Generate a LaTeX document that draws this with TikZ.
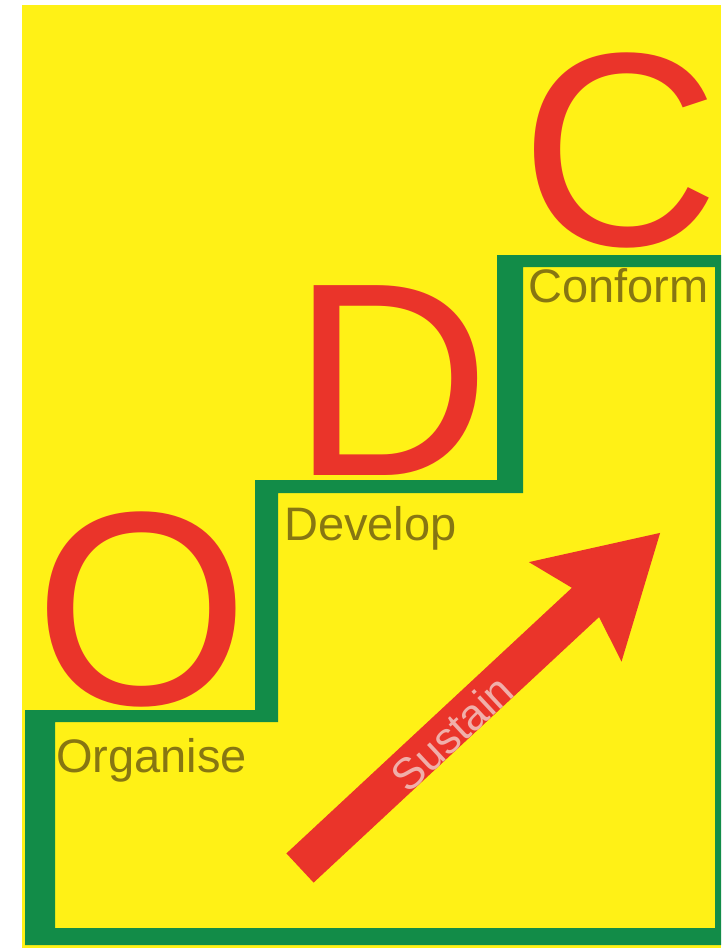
\documentclass[tikz,border=0pt]{standalone}
\usepackage{fontspec}
\setmainfont{Liberation Sans}
\definecolor{bgyellow}{RGB}{255,241,22}
\definecolor{stairgreen}{RGB}{18,140,72}
\definecolor{letterred}{RGB}{234,52,42}
\definecolor{labelolive}{RGB}{135,118,18}
\definecolor{sustainpink}{RGB}{240,175,170}
\tikzset{
  bigletter/.style={inner sep=0pt, text=letterred, font=\fontsize{276}{276}\selectfont},
  steplabel/.style={inner sep=0pt, anchor=base west, text=labelolive, font=\fontsize{47}{50}\selectfont},
  arrowlabel/.style={inner sep=0pt, text=sustainpink, font=\fontsize{44}{46}\selectfont, rotate=42.94}
}
\begin{document}
\begin{tikzpicture}[x=1pt,y=-1pt]
\useasboundingbox (0,0) rectangle (721,948);
\fill[white] (0,0) rectangle (721,948);
\fill[bgyellow] (22,5) rectangle (721,948);
% staircase outline
\fill[stairgreen, even odd rule]
  (25,710) -- (255,710) -- (255,480) -- (497,480) -- (497,255) -- (721,255) -- (721,945) -- (25,945) -- cycle
  (55,722) -- (278,722) -- (278,493) -- (523,493) -- (523,267) -- (715,267) -- (715,928) -- (55,928) -- cycle;
% big letters
\node[bigletter] (o) at (141.5,609.5) {O};
\node[bigletter] (d) at (391.5,381) {D};
\node[bigletter] (c) at (620,150) {C};
% step labels
\node[steplabel] (organise) at (56,772) {Organise};
\node[steplabel] (develop) at (284,540) {Develop};
\node[steplabel] (conform) at (528,302) {Conform};
% sustain arrow
\fill[letterred] (286.4,853.4) -- (571.9,587.8) -- (528.9,562.1) -- (660.1,532.9)
  -- (621.5,661.7) -- (599.1,617.0) -- (313.6,882.6) -- cycle;
\node[arrowlabel] (sustain) at (452,733) {Sustain};
\end{tikzpicture}
\end{document}
